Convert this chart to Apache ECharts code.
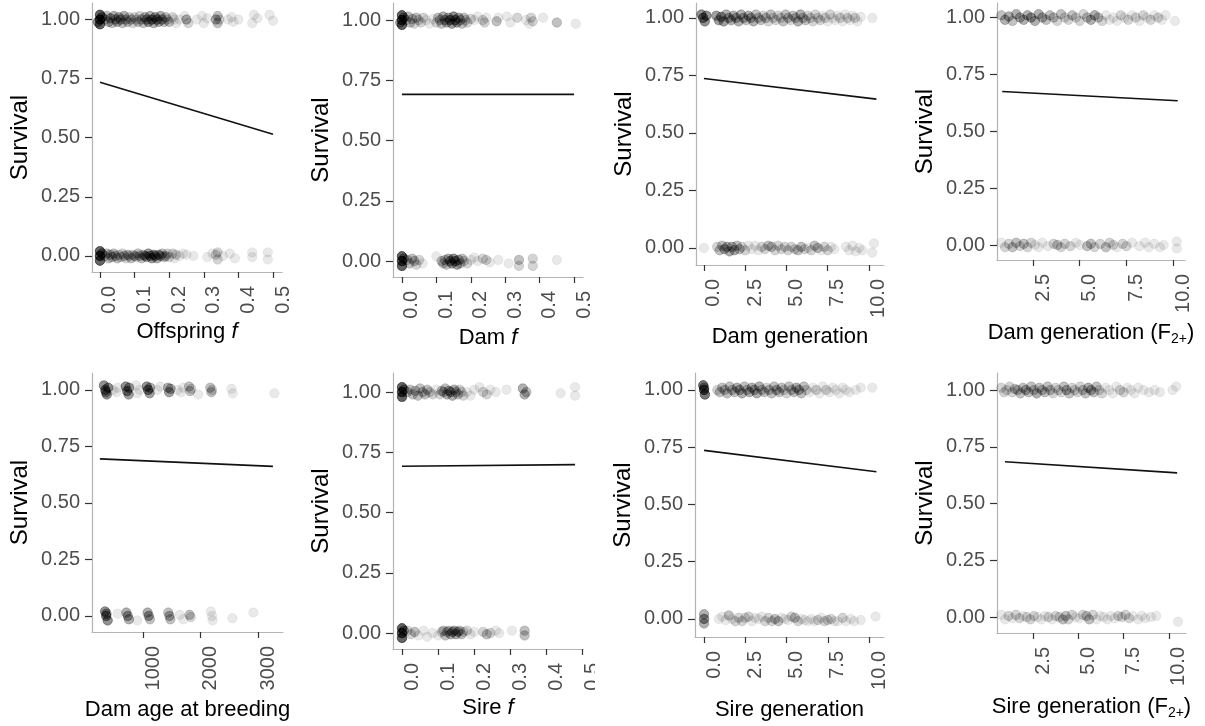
<!DOCTYPE html>
<html><head><meta charset="utf-8">
<script src="https://cdn.jsdelivr.net/npm/echarts@6/dist/echarts.min.js"></script>
<style>html,body{margin:0;padding:0;background:#fff}#c{width:1205px;height:726px}</style>
</head><body><div id="c"></div>
<script>
// ---------------- DATA ----------------
// points are [x, survival (with jitter), number of overlapping points]
const yTicks = [0, 0.25, 0.5, 0.75, 1];
const yTickLabels = ['0.00', '0.25', '0.50', '0.75', '1.00'];
const fTicks = [0, 0.1, 0.2, 0.3, 0.4, 0.5];
const genTicks = [0, 2.5, 5, 7.5, 10];
const genF2Ticks = [2.5, 5, 7.5, 10];
const ageTicks = [1000, 2000, 3000];

const titles = ['Offspring {i|f}', 'Dam {i|f}', 'Dam generation', 'Dam generation (F{s|2+})',
  'Dam age at breeding', 'Sire {i|f}', 'Sire generation', 'Sire generation (F{s|2+})'];

// 1 Offspring f
const offF_alive = [[0,1.02,10],[0,1.0,12],[0,0.98,10],[0.006,1.01,6],[-0.006,0.99,6],
 [0.015,1.0,3],[0.02,1.015,3],[0.025,0.99,4],[0.03,1.005,4],[0.035,0.985,3],[0.04,1.015,4],[0.045,1.0,4],[0.05,0.99,4],
 [0.055,1.01,4],[0.06,1.0,4],[0.065,0.985,3],[0.07,1.015,4],[0.075,1.0,3],[0.08,0.99,3],[0.085,1.01,2],[0.09,1.0,3],
 [0.095,0.985,2],[0.1,1.01,2],[0.105,1.0,2],[0.11,0.99,3],[0.115,1.015,2],[0.12,1.0,3],[0.125,0.985,3],[0.13,1.01,4],
 [0.135,1.0,4],[0.14,0.99,5],[0.145,1.015,4],[0.15,1.0,6],[0.155,0.985,4],[0.16,1.01,5],[0.165,1.0,5],[0.17,0.99,4],
 [0.175,1.015,4],[0.18,1.0,4],[0.185,0.99,3],[0.19,1.01,3],[0.195,1.0,2],[0.2,0.99,3],[0.21,1.01,2],[0.215,1.0,1],
 [0.22,0.985,1],[0.23,1.0,1],[0.25,1.0,4],[0.255,0.985,2],[0.245,1.015,1],[0.28,1.0,1],[0.295,1.015,1],[0.3,0.985,1],
 [0.31,1.005,1],[0.335,1.0,4],[0.34,0.985,3],[0.34,1.015,3],[0.345,1.0,2],[0.37,1.0,1],[0.38,1.01,1],[0.385,0.99,1],
 [0.4,1.0,1],[0.445,1.02,1],[0.44,0.985,1],[0.455,1.005,1],[0.49,1.02,1],[0.5,0.995,1]];
const offF_dead = [[0,0.02,10],[0,0,12],[0,-0.02,10],[0.006,0.01,5],
 [0.015,0,3],[0.02,0.01,3],[0.025,-0.01,3],[0.03,0.005,3],[0.035,-0.005,3],[0.04,0.01,3],[0.045,0,3],[0.05,-0.01,3],
 [0.055,0.005,2],[0.06,-0.005,2],[0.065,0.01,2],[0.07,0,3],[0.075,-0.01,2],[0.08,0.005,3],[0.085,0,2],[0.09,-0.01,3],
 [0.095,0.005,2],[0.1,0,3],[0.105,-0.005,2],[0.11,0.01,3],[0.115,0,3],[0.12,-0.01,3],[0.125,0.005,3],[0.13,0,4],
 [0.135,-0.005,4],[0.14,0.01,5],[0.145,0,5],[0.15,-0.01,5],[0.155,0.005,5],[0.16,0,5],[0.165,-0.01,4],[0.17,0.005,4],
 [0.175,0,4],[0.18,0.01,3],[0.185,-0.005,3],[0.19,0,3],[0.195,0.01,2],[0.2,-0.005,2],[0.21,0.01,2],[0.215,-0.01,1],
 [0.22,0.005,2],[0.23,0,1],[0.24,0.01,1],[0.25,0.005,1],[0.27,0,1],
 [0.31,-0.005,1],[0.325,0.01,1],[0.335,0.005,2],[0.34,0.015,2],[0.34,-0.015,2],[0.355,0,1],[0.375,0.01,1],[0.39,-0.01,1],
 [0.44,0.015,1],[0.44,-0.005,1],[0.485,0.015,1],[0.485,-0.015,1]];
const offF_fit = [[0,0.735],[0.5,0.515]];

// 2 Dam f
const damF_alive = [[0,1.02,10],[0,1.0,12],[0,0.98,10],[0.005,1.01,5],[-0.005,0.99,5],
 [0.012,1.0,3],[0.018,1.015,3],[0.024,0.99,3],[0.03,1.005,3],[0.036,0.985,2],[0.042,1.01,3],[0.048,1.0,2],[0.055,0.99,2],
 [0.062,1.01,2],[0.07,1.0,1],[0.08,0.985,1],[0.09,1.005,1],[0.1,0.99,2],[0.105,1.01,3],[0.11,1.0,3],[0.115,0.985,3],
 [0.12,1.015,4],[0.125,1.0,4],[0.13,0.99,4],[0.135,1.01,4],[0.14,1.0,6],[0.145,0.985,5],[0.15,1.015,6],[0.155,1.0,6],
 [0.16,0.99,5],[0.165,1.01,4],[0.17,1.0,3],[0.175,0.985,3],[0.18,1.01,3],[0.185,1.0,2],[0.19,0.99,2],[0.2,1.005,2],
 [0.21,1.0,1],[0.22,1.015,1],[0.235,1.0,2],[0.24,0.99,2],[0.245,1.01,1],[0.275,0.995,3],[0.28,1.01,1],[0.305,1.015,1],
 [0.315,0.99,1],[0.335,1.01,2],[0.36,1.0,1],[0.37,0.985,1],[0.375,1.01,2],[0.38,0.995,2],[0.41,1.01,1],[0.45,0.99,3],
 [0.505,0.985,1]];
const damF_dead = [[0,0.02,10],[0,0,12],[0,-0.02,10],[0.005,0.01,5],
 [0.015,0.005,3],[0.022,-0.01,3],[0.03,0.01,3],[0.036,0,3],[0.042,-0.015,2],[0.05,0.005,2],[0.06,-0.01,1],[0.1,0.02,1],
 [0.115,0,3],[0.12,-0.01,3],[0.125,0.005,3],[0.13,-0.015,3],[0.135,0.01,4],[0.14,0,5],[0.145,-0.01,5],[0.15,0.01,6],
 [0.155,0,6],[0.16,-0.015,5],[0.165,0.005,4],[0.17,-0.01,3],[0.175,0.01,3],[0.18,0,2],[0.19,-0.01,2],[0.2,0.005,1],
 [0.21,0.015,1],[0.22,0,1],[0.235,0.01,2],[0.245,0.005,2],[0.255,-0.005,1],[0.28,0.005,1],[0.31,-0.01,1],
 [0.34,0.005,3],[0.34,-0.02,2],[0.38,0.01,2],[0.38,-0.02,2],[0.45,0.005,1]];
const damF_fit = [[0,0.692],[0.5,0.692]];

// 3 Dam generation
const damGen_alive = [[-0.15,1.015,6],[-0.05,1.0,7],[0.05,0.985,6],[0.15,1.01,6],
 [0.75,1.01,5],[0.9,0.99,5],[1.05,1.005,5],[1.2,0.985,5],[1.35,1.015,4],
 [1.5,1.0,4],[1.65,0.99,4],[1.8,1.01,4],[1.95,1.0,4],[2.1,0.985,4],[2.25,1.015,4],[2.4,1.0,4],[2.55,0.99,3],[2.7,1.01,4],
 [2.85,1.0,4],[3.0,0.985,4],[3.15,1.015,3],[3.3,1.0,3],[3.45,0.99,3],[3.6,1.01,2],[3.75,1.0,3],[3.9,0.985,2],
 [4.05,1.015,3],[4.2,1.0,2],[4.35,0.99,2],[4.5,1.01,2],[4.65,1.0,2],[4.8,0.985,3],[4.95,1.015,3],[5.1,1.0,3],
 [5.25,0.99,2],[5.4,1.01,3],[5.55,1.0,3],[5.7,0.985,4],[5.85,1.015,4],[6.0,1.0,3],[6.15,0.99,3],[6.3,1.01,2],
 [6.45,1.0,2],[6.6,0.985,2],[6.75,1.015,2],[6.9,1.0,2],[7.05,0.99,2],[7.2,1.01,1],[7.35,1.0,2],[7.5,0.985,1],
 [7.65,1.015,2],[7.8,1.0,1],[7.95,0.99,1],[8.1,1.01,1],[8.25,1.0,2],[8.4,0.985,1],[8.55,1.015,1],[8.7,1.0,2],
 [8.85,0.99,1],[9.0,1.01,1],[9.15,1.0,2],[9.3,0.985,1],[9.5,1.005,1],[10.2,1.0,1]];
const damGen_dead = [[0,0,1],
 [0.8,0.005,2],[0.95,-0.01,3],[1.1,0.01,3],[1.25,-0.005,4],[1.4,0.005,4],[1.55,-0.015,4],[1.7,0.005,4],[1.85,-0.01,4],
 [2.0,0.01,3],[2.15,-0.005,3],[2.3,0.005,2],[2.5,-0.01,2],[2.7,0.01,1],[2.9,-0.005,1],[3.1,0.01,1],[3.3,-0.01,1],
 [3.5,0.005,2],[3.7,-0.005,2],[3.9,0.01,3],[4.1,0.005,3],[4.3,-0.01,2],[4.5,0.01,2],[4.7,-0.005,2],[4.9,0.005,2],
 [5.1,-0.01,2],[5.3,0.005,2],[5.5,-0.005,2],[5.7,-0.01,3],[5.9,0.005,3],[6.1,-0.005,2],[6.3,0,1],[6.5,-0.01,2],
 [6.7,0.01,3],[6.9,0,3],[7.1,-0.01,1],[7.3,0.005,2],[7.5,-0.01,2],[7.7,0.005,1],[7.9,-0.005,1],[8.6,0.005,1],
 [8.8,-0.01,1],[9.0,0.01,1],[9.2,-0.015,1],[9.4,0,1],[9.6,-0.01,1],[10.3,0.02,1],[10.2,-0.02,1]];
const damGen_fit = [[0,0.737],[10.45,0.647]];

// 4 Dam generation (F2+)
const damGenF2_alive = [[0.8,1.01,3],[1.0,0.99,4],[1.2,1.005,4],[1.4,0.985,3],[1.6,1.015,4],[1.8,1.0,4],[2.0,0.99,4],
 [2.2,1.01,4],[2.4,1.0,5],[2.6,0.985,4],[2.8,1.015,4],[3.0,1.0,4],[3.2,0.99,3],[3.4,1.01,3],[3.6,1.0,3],[3.8,0.985,2],
 [4.0,1.015,3],[4.2,1.0,2],[4.4,0.99,2],[4.6,1.01,3],[4.8,1.0,2],[5.0,0.985,2],[5.2,1.015,2],[5.4,1.0,3],[5.6,0.99,4],
 [5.8,1.01,4],[6.0,1.0,3],[6.2,0.985,2],[6.4,1.01,1],[6.6,0.99,1],[6.8,1.0,1],[7.0,0.985,1],[7.2,1.01,2],[7.4,1.0,1],
 [7.6,0.99,2],[7.8,1.01,1],[8.0,1.0,2],[8.2,0.985,1],[8.4,1.01,2],[8.6,1.0,1],[8.8,0.99,2],[9.0,1.01,1],[9.2,1.0,2],
 [9.4,0.99,1],[9.6,1.01,1],[10.1,0.985,1]];
const damGenF2_dead = [[0.8,0.01,1],[1.0,-0.01,2],[1.2,0.005,2],[1.4,-0.01,3],[1.6,0.01,3],[1.8,-0.005,2],[2.0,0.005,3],
 [2.2,-0.01,2],[2.4,0.01,2],[2.6,0,1],[2.8,-0.01,1],[3.0,0.01,1],[3.3,-0.005,1],[3.6,0.005,2],[3.8,0,3],[4.0,-0.01,2],
 [4.2,0.005,2],[4.5,-0.005,2],[4.8,0.01,1],[5.0,0,1],[5.4,-0.005,3],[5.6,0.005,3],[5.8,-0.01,2],[6.1,0.005,2],
 [6.4,-0.01,3],[6.6,0.01,2],[6.8,0,2],[7.0,-0.01,1],[7.3,0.005,2],[7.5,-0.005,2],[7.8,0.01,1],[8.2,-0.005,1],
 [8.5,0.01,1],[8.7,-0.01,1],[9.0,0.005,1],[9.3,-0.01,1],[9.5,0,1],[10.2,0.015,1],[10.2,-0.015,1]];
const damGenF2_fit = [[0.85,0.675],[10.25,0.634]];

// 5 Dam age at breeding (days)
const damAge_alive = [[320,1.02,6],[345,1.0,7],[370,0.98,6],[395,1.01,6],[355,0.99,5],
 [700,1.015,6],[725,0.995,7],[750,0.98,5],[760,1.01,5],
 [1065,1.015,6],[1090,1.0,7],[1115,0.985,5],[1125,1.01,4],
 [1435,1.01,4],[1455,0.99,5],[1480,1.005,4],
 [1800,1.015,3],[1820,0.995,3],[1840,1.005,2],
 [2170,1.01,3],[2190,0.99,3],[2200,1.0,2],
 [480,1.0,1],[540,0.99,1],[560,1.01,1],[880,1.02,1],[900,0.985,1],[940,1.0,1],[1250,1.0,1],[1300,1.015,1],
 [1600,1.0,1],[1660,0.99,1],[1700,1.01,1],[1960,0.98,1],[2540,1.005,1],[2560,0.985,1],[3285,0.985,1]];
const damAge_dead = [[340,0.02,6],[360,0,7],[385,-0.02,6],[365,0.01,5],
 [710,0.015,4],[735,0,5],[755,-0.015,4],
 [1080,0.015,4],[1100,0,5],[1120,-0.015,3],
 [1440,0.015,3],[1460,0,4],[1475,-0.015,3],
 [1810,0.005,3],[1830,-0.005,2],
 [2180,0.02,1],[2200,0,1],[2210,-0.02,1],
 [560,0.01,1],[900,-0.02,1],[1640,0.005,1],[1700,-0.015,1],[2555,-0.01,1],[2920,0.015,1]];
const damAge_fit = [[250,0.695],[3260,0.662]];

// 6 Sire f
const sireF_alive = [[0,1.02,10],[0,1.0,12],[0,0.98,10],[0.005,1.01,5],
 [0.015,1.0,3],[0.022,1.01,3],[0.03,0.99,3],[0.037,1.005,3],[0.044,0.985,3],[0.05,1.015,3],[0.057,1.0,3],[0.064,0.99,3],
 [0.07,1.01,3],[0.077,1.0,2],[0.085,0.99,2],[0.095,1.01,1],[0.105,0.99,2],[0.11,1.005,3],[0.115,1.0,3],[0.12,1.015,3],
 [0.125,0.99,4],[0.13,1.005,4],[0.135,1.0,4],[0.14,0.985,4],[0.145,1.01,4],[0.15,1.0,3],[0.155,0.99,3],[0.16,1.01,2],
 [0.165,1.0,2],[0.17,0.985,2],[0.18,1.0,1],[0.19,0.985,1],[0.2,1.01,1],[0.215,1.02,1],[0.225,1.0,2],[0.235,0.99,2],
 [0.245,1.01,1],[0.26,1.0,1],[0.29,1.01,1],[0.335,1.015,4],[0.34,0.99,4],[0.345,1.0,3],[0.44,0.995,1],[0.48,1.02,1],
 [0.48,0.985,1]];
const sireF_dead = [[0,0.02,10],[0,0,12],[0,-0.02,10],[0.005,0.01,5],
 [0.015,0.01,2],[0.025,-0.005,2],[0.035,0.005,3],[0.045,-0.01,1],[0.06,0.01,1],[0.07,-0.015,1],[0.085,0,1],[0.1,-0.01,1],
 [0.11,0.005,2],[0.115,0.01,3],[0.12,-0.01,3],[0.125,0.005,3],[0.13,0.01,3],[0.135,-0.005,4],[0.14,0.005,4],
 [0.145,0.01,4],[0.15,-0.005,4],[0.155,0.005,4],[0.16,0.01,3],[0.165,-0.005,3],[0.17,0.005,2],[0.18,0.01,2],
 [0.19,-0.005,1],[0.2,0.005,1],[0.225,0.005,2],[0.235,-0.005,3],[0.245,0,2],[0.26,0.01,1],[0.27,0,1],[0.305,0.01,1],
 [0.34,0.01,3],[0.34,-0.01,3]];
const sireF_fit = [[0,0.692],[0.48,0.699]];

// 7 Sire generation
const sireGen_alive = [[-0.05,1.02,8],[0,1.0,10],[0.05,0.98,8],[0,1.01,5],
 [0.8,1.0,2],[0.95,0.99,3],[1.1,1.01,3],[1.25,1.0,3],[1.4,0.985,3],[1.55,1.015,3],[1.7,1.0,3],[1.85,0.99,3],[2.0,1.01,4],
 [2.15,1.0,4],[2.3,0.985,4],[2.45,1.015,3],[2.6,1.0,3],[2.75,0.99,4],[2.9,1.01,4],[3.05,1.0,4],[3.2,0.985,4],
 [3.35,1.015,4],[3.5,1.0,3],[3.65,0.99,3],[3.8,1.01,2],[3.95,1.0,3],[4.1,0.985,3],[4.25,1.015,3],[4.4,1.0,4],
 [4.55,0.99,3],[4.7,1.01,3],[4.85,1.0,2],[5.0,0.985,2],[5.15,1.015,3],[5.3,1.0,3],[5.45,0.99,3],[5.6,1.01,4],
 [5.75,1.0,4],[5.9,0.985,3],[6.05,1.015,3],[6.2,1.0,2],[6.4,0.99,1],[6.6,1.01,1],[6.8,1.0,2],[7.0,0.985,1],
 [7.2,1.015,1],[7.4,1.0,2],[7.6,0.99,1],[7.8,1.01,1],[8.0,1.0,1],[8.2,0.985,1],[8.4,1.01,1],[8.6,1.0,1],[8.8,0.99,1],
 [9.2,1.0,1],[9.5,1.01,1],[10.2,1.01,1]];
const sireGen_dead = [[0,0.02,4],[0,0,6],[0,-0.02,4],
 [0.9,0,1],[1.1,0.01,1],[1.3,-0.005,1],[1.5,0.015,3],[1.7,0,1],[1.9,-0.01,2],[2.1,0.005,2],[2.3,-0.01,2],[2.5,0.005,2],
 [2.7,0.01,2],[2.9,-0.01,1],[3.1,0.005,1],[3.3,0,1],[3.5,0.01,1],[3.7,-0.01,2],[3.9,0.005,2],[4.1,-0.01,2],[4.3,0,3],
 [4.5,-0.01,3],[4.7,0.005,1],[4.9,0,1],[5.1,-0.005,1],[5.3,0.01,2],[5.5,0.005,3],[5.7,-0.01,2],[5.9,0,1],
 [6.1,-0.005,1],[6.3,-0.01,1],[6.5,0,1],[6.7,-0.01,1],[6.9,-0.005,2],[7.1,0.005,1],[7.3,-0.01,2],[7.5,-0.005,2],
 [7.7,0,2],[7.9,-0.01,1],[8.1,-0.01,1],[8.4,0.005,2],[8.6,-0.01,1],[8.9,0,1],[9.1,-0.01,1],[9.5,-0.005,1],[10.4,0.01,1]];
const sireGen_fit = [[0,0.736],[10.45,0.643]];

// 8 Sire generation (F2+)
const sireGenF2_alive = [[0.75,1.01,2],[0.9,0.99,2],[1.05,1.0,2],[1.2,1.015,2],[1.35,0.99,2],[1.5,1.005,3],[1.65,1.0,3],
 [1.8,0.985,3],[1.95,1.01,3],[2.1,1.0,4],[2.25,0.99,3],[2.4,1.015,3],[2.55,1.0,3],[2.7,0.985,4],[2.85,1.01,3],
 [3.0,1.0,3],[3.15,0.99,3],[3.3,1.015,3],[3.45,1.0,3],[3.6,0.985,2],[3.75,1.01,2],[3.9,1.0,2],[4.05,0.99,2],
 [4.2,1.015,3],[4.35,1.0,4],[4.5,0.985,3],[4.65,1.01,2],[4.8,1.0,2],[4.95,0.99,2],[5.1,1.015,2],[5.25,1.0,3],
 [5.4,0.985,3],[5.55,1.01,4],[5.7,1.0,4],[5.85,0.99,3],[6.0,1.015,3],[6.15,1.0,2],[6.3,0.985,2],[6.5,1.01,1],
 [6.7,1.0,1],[6.9,0.985,1],[7.1,1.015,1],[7.3,1.0,2],[7.5,0.99,2],[7.7,1.01,1],[7.9,1.0,1],[8.1,0.985,1],[8.3,1.01,1],
 [8.6,1.0,1],[8.9,0.99,1],[9.2,1.0,1],[9.5,0.99,1],[10.2,1.0,1],[10.4,1.015,1]];
const sireGenF2_dead = [[0.75,0.01,1],[0.95,-0.01,1],[1.15,0.005,2],[1.35,-0.005,1],[1.55,0.01,2],[1.75,-0.005,2],
 [1.95,0.005,1],[2.15,0,2],[2.35,-0.01,2],[2.55,0.005,2],[2.75,0,1],[2.95,-0.01,1],[3.15,0.005,1],[3.35,0,2],
 [3.55,-0.01,1],[3.75,0.005,2],[3.95,0,2],[4.15,-0.01,3],[4.3,0.005,3],[4.45,-0.01,2],[4.65,0.01,2],[4.85,0,1],
 [5.05,-0.005,1],[5.25,0.01,2],[5.45,0.005,3],[5.6,-0.01,3],[5.8,0.01,2],[6.0,-0.01,1],[6.2,0.005,1],[6.4,0,1],
 [6.6,-0.01,1],[6.8,0.005,1],[7.0,-0.005,1],[7.2,0.005,2],[7.4,0,2],[7.6,0.01,2],[7.8,-0.005,2],[8.0,0.005,1],
 [8.3,-0.01,1],[8.5,0.005,1],[8.7,-0.005,1],[9.0,0,1],[9.3,0.005,1],[10.5,-0.02,1]];
const sireGenF2_fit = [[0.95,0.684],[10.45,0.635]];

// ---------------- LAYOUT ----------------
const FONT = "'Liberation Sans', Arial, sans-serif";
const panels = [
 {alive: offF_alive, dead: offF_dead, fit: offF_fit, ticks: fTicks, dec: 1,
  g: {left: 92, top: 3, width: 190, height: 269}, x: [-0.023, 0.526], y: [-0.068, 1.070], gap: 49},
 {alive: damF_alive, dead: damF_dead, fit: damF_fit, ticks: fTicks, dec: 1,
  g: {left: 393, top: 3, width: 190, height: 274}, x: [-0.026, 0.526], y: [-0.066, 1.071], gap: 50},
 {alive: damGen_alive, dead: damGen_dead, fit: damGen_fit, ticks: genTicks, dec: 1,
  g: {left: 696, top: 3, width: 188, height: 262}, x: [-0.48, 10.91], y: [-0.074, 1.065], gap: 61},
 {alive: damGenF2_alive, dead: damGenF2_dead, fit: damGenF2_fit, ticks: genF2Ticks, dec: 1,
  g: {left: 997, top: 3, width: 188, height: 257}, x: [0.57, 10.64], y: [-0.066, 1.064], gap: 62},
 {alive: damAge_alive, dead: damAge_dead, fit: damAge_fit, ticks: ageTicks, dec: 0,
  g: {left: 92, top: 373, width: 191, height: 259}, x: [113, 3435], y: [-0.071, 1.075], gap: 67},
 {alive: sireF_alive, dead: sireF_dead, fit: sireF_fit, ticks: fTicks, dec: 1,
  g: {left: 393, top: 373, width: 190, height: 276}, x: [-0.025, 0.502], y: [-0.066, 1.079], gap: 48},
 {alive: sireGen_alive, dead: sireGen_dead, fit: sireGen_fit, ticks: genTicks, dec: 1,
  g: {left: 695, top: 373, width: 189, height: 264}, x: [-0.55, 10.91], y: [-0.079, 1.074], gap: 62},
 {alive: sireGenF2_alive, dead: sireGenF2_dead, fit: sireGenF2_fit, ticks: genF2Ticks, dec: 1,
  g: {left: 997, top: 373, width: 189, height: 260}, x: [0.51, 10.94], y: [-0.070, 1.075], gap: 63}
];

function expand(list) {
  const out = [];
  list.forEach(p => { for (let k = 0; k < p[2]; k++) out.push([p[0], p[1]]); });
  return out;
}

const AXIS_LINE = '#B4B4B4', TICK = '#333333', LABEL = '#4D4D4D';
const grid = [], xAxis = [], yAxis = [], series = [];
panels.forEach((p, i) => {
  grid.push(Object.assign({}, p.g));
  xAxis.push({
    type: 'value', gridIndex: i, min: p.x[0], max: p.x[1],
    name: titles[i], nameLocation: 'middle', nameGap: p.gap,
    nameTextStyle: {color: '#000', fontSize: 22, fontFamily: FONT,
      rich: {i: {fontStyle: 'italic', fontSize: 22, fontFamily: FONT, color: '#000'},
             s: {fontSize: 14, fontFamily: FONT, color: '#000', lineHeight: 14, padding: [12, 0, 0, 0]}}},
    axisLine: {show: true, onZero: false, lineStyle: {color: AXIS_LINE, width: 1.2}},
    axisTick: {show: true, length: 6, customValues: p.ticks, lineStyle: {color: TICK, width: 1.2}},
    axisLabel: {show: true, rotate: 90, customValues: p.ticks, margin: 14, verticalAlign: 'top',
      color: LABEL, fontSize: 20, fontFamily: FONT,
      formatter: v => Number(v).toFixed(p.dec)},
    splitLine: {show: false}
  });
  yAxis.push({
    type: 'value', gridIndex: i, min: p.y[0], max: p.y[1],
    name: 'Survival', nameLocation: 'middle', nameGap: 60,
    nameTextStyle: {color: '#000', fontSize: 24, fontFamily: FONT},
    axisLine: {show: true, onZero: false, lineStyle: {color: AXIS_LINE, width: 1.2}},
    axisTick: {show: true, length: 7, customValues: yTicks, lineStyle: {color: TICK, width: 1.2}},
    axisLabel: {show: true, customValues: yTicks, margin: 12, color: LABEL, fontSize: 20, fontFamily: FONT,
      formatter: v => yTickLabels[yTicks.indexOf(Math.round(v * 100) / 100)]},
    splitLine: {show: false}
  });
  series.push({
    type: 'scatter', xAxisIndex: i, yAxisIndex: i, symbol: 'circle', symbolSize: 9.5, silent: true,
    data: expand(p.alive).concat(expand(p.dead)),
    itemStyle: {color: 'rgba(0,0,0,0.11)', borderColor: 'rgba(0,0,0,0.07)', borderWidth: 1}
  });
  series.push({
    type: 'line', xAxisIndex: i, yAxisIndex: i, data: p.fit, showSymbol: false, silent: true,
    lineStyle: {color: '#111', width: 1.6}
  });
});

const chart = echarts.init(document.getElementById('c'), null, {renderer: 'canvas'});
chart.setOption({
  animation: false,
  backgroundColor: '#fff',
  grid, xAxis, yAxis, series,
  graphic: [{type: 'rect', left: 595, top: 650, shape: {width: 8, height: 40}, style: {fill: '#fff'}, z: 100}]
});
</script>
</body></html>
